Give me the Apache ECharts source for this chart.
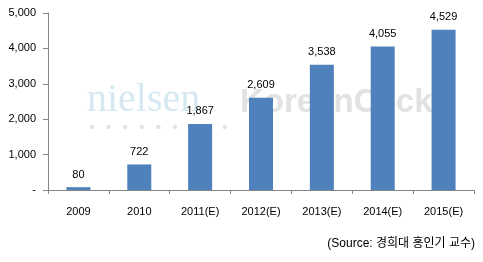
<!DOCTYPE html>
<html><head><meta charset="utf-8">
<script src="https://cdn.jsdelivr.net/npm/echarts@6/dist/echarts.min.js"></script>
<style>html,body{margin:0;padding:0;background:#fff}#c{width:483px;height:262px}</style>
</head><body><div id="c"></div>
<script>
var categories = ['2009','2010','2011(E)','2012(E)','2013(E)','2014(E)','2015(E)'];
var values = [80, 722, 1867, 2609, 3538, 4055, 4529];
var yTicks = [0, 1000, 2000, 3000, 4000, 5000];
var sourceText = '(Source: 경희대 홍인기 교수)';

var chart = echarts.init(document.getElementById('c'));
var font = 'Liberation Sans, Arial, "Noto Sans CJK KR", sans-serif';
var dots = [];
for (var i = 0; i < 9; i++) {
  dots.push({type:'circle', shape:{cx:92 + i*16.6, cy:127, r:2.2}, style:{fill:'#e2e2e2'}, z:-1});
}
chart.setOption({
  animation:false,
  grid:{left:48, right:9, top:13, bottom:72},
  xAxis:{type:'category', data:categories,
    axisLine:{lineStyle:{color:'#868686'}},
    axisTick:{show:true, length:4, lineStyle:{color:'#868686'}},
    axisLabel:{color:'#000', fontSize:11, fontFamily:font, margin:16}},
  yAxis:{type:'value', min:0, max:5000, interval:1000,
    axisLine:{show:true, lineStyle:{color:'#868686'}},
    axisTick:{show:true, length:5, lineStyle:{color:'#868686'}},
    splitLine:{show:false},
    axisLabel:{color:'#000', fontSize:11, fontFamily:font, margin:12,
      formatter:function(v){ return v === 0 ? '-' : v.toLocaleString('en-US'); }}},
  series:[{type:'bar', data:values, barWidth:24,
    itemStyle:{color:'#4F81BD'},
    label:{show:true, position:'top', distance:7, color:'#000', fontSize:11, fontFamily:font,
      formatter:function(p){ return p.value.toLocaleString('en-US'); }}}],
  graphic:[
    {type:'text', left:87, top:80, z:-1, style:{text:'nielsen', font:'40px "Liberation Serif", "DejaVu Serif", serif', fill:'#d6e9f2'}},
    {type:'text', left:240, top:86, z:-1, style:{text:'KoreanClick', font:'bold 33px "Liberation Sans", Arial, sans-serif', fill:'#e2e2e4'}}
  ].concat(dots).concat([
    {type:'text', right:8, top:238, style:{text:sourceText, font:'12px ' + font, fill:'#000'}}
  ])
});
</script></body></html>
